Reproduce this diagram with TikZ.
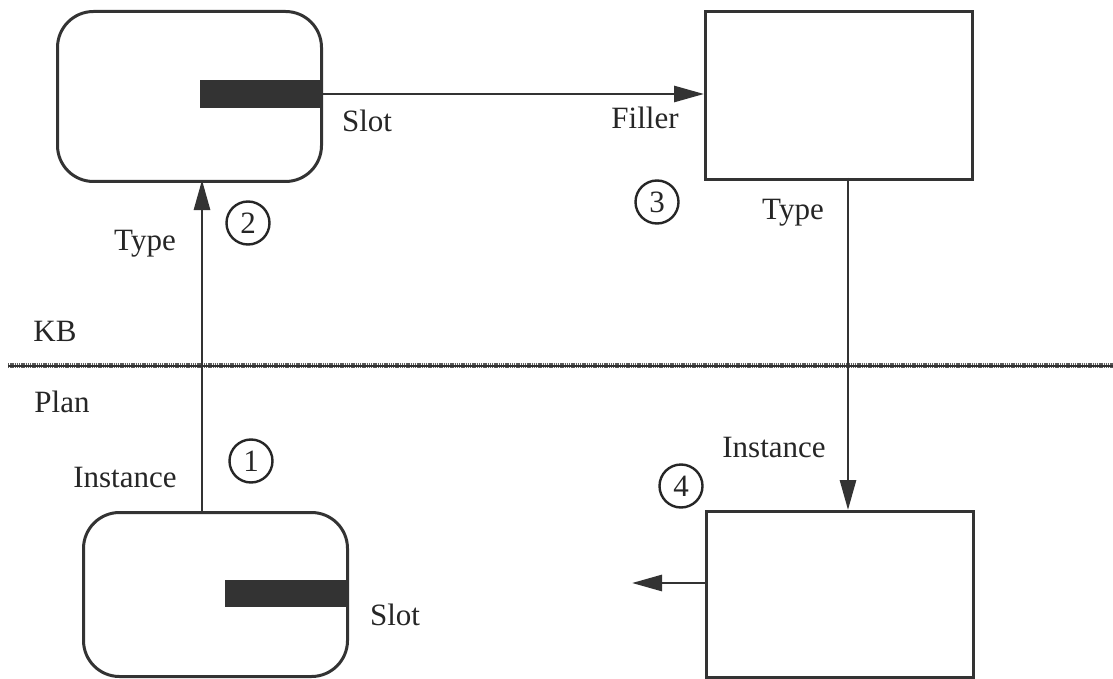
\documentclass[tikz,border=0pt]{standalone}
\usepackage{fontspec}
\setmainfont{Liberation Serif}
\usetikzlibrary{arrows.meta}
\begin{document}
\begin{tikzpicture}[x=1pt,y=-1pt,
  ink/.style={draw=black!80,line width=3pt},
  framebox/.style={ink,rectangle,inner sep=0pt,anchor=north west},
  bar/.style={fill=black!80,draw=none},
  conn/.style={draw=black!80,line width=2.8pt,-{Triangle[length=30pt,width=16pt]}},
  lbl/.style={font=\fontsize{31}{36}\selectfont,text=black!85,inner sep=0pt},
  num/.style={draw=black!85,line width=2.4pt,circle,minimum size=43pt,inner sep=0pt,font=\fontsize{31}{34}\selectfont,text=black!85}]
\useasboundingbox[fill=white] (0,0) rectangle (1113,679);
% boxes
\node[framebox,rounded corners=36pt,minimum width=264pt,minimum height=170pt] (tl) at (56,10) {};
\node[framebox,minimum width=267pt,minimum height=168pt] (tr) at (704,10) {};
\node[framebox,rounded corners=36pt,minimum width=264pt,minimum height=164pt] (bl) at (82,511) {};
\node[framebox,minimum width=267pt,minimum height=166pt] (br) at (705,510) {};
% slot bars
\fill[bar] (200,80) rectangle (320,108);
\fill[bar] (225,580) rectangle (346,607);
\coordinate (tlslot) at (320,94);
\coordinate (blx) at (202,511);
\coordinate (tlx) at (202,180);
\coordinate (trx) at (848,178);
\coordinate (brx) at (848,510);
\coordinate (brl) at (705,583);
\coordinate (lend) at (632,583);
% separator
\draw[black!65,line width=5pt,dash pattern=on 1.3pt off 0.9pt] (8,365) coordinate (sepl) -- (1113,365) coordinate (sepr);
\draw[black!80,line width=1.4pt] ([yshift=-1pt]sepl) -- ([yshift=-1pt]sepr);
% connectors
\draw[conn] (tlslot) -- (tlslot -| tr.west);
\draw[conn] (blx) -- (tlx);
\draw[conn] (trx) -- (brx);
\draw[conn] (brl) -- (lend);
% labels
\node[lbl] (l1) at (367,121) {Slot};
\node[lbl] (l2) at (645,118) {Filler};
\node[lbl] (l3) at (793,213) {Type};
\node[lbl] (l4) at (145,244) {Type};
\node[lbl] (l5) at (55,331) {KB};
\node[lbl] (l6) at (62,402) {Plan};
\node[lbl] (l7) at (125,477) {Instance};
\node[lbl] (l8) at (774,447) {Instance};
\node[lbl] (l9) at (395,615) {Slot};
% circled numbers
\node[num] (n1) at (251,461) {1};
\node[num] (n2) at (248,223) {2};
\node[num] (n3) at (657,202) {3};
\node[num] (n4) at (681,486) {4};
\end{tikzpicture}
\end{document}
